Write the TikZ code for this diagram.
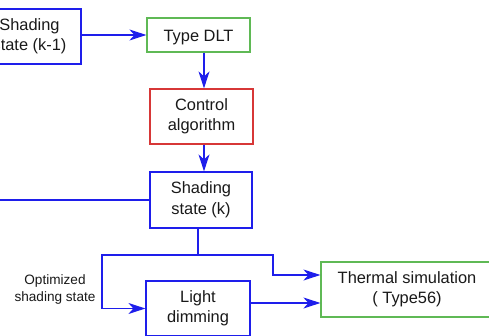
\documentclass[tikz,border=0pt]{standalone}
\usepackage{fontspec}
\setmainfont{Liberation Sans}
\usetikzlibrary{arrows.meta}
\definecolor{lnblue}{RGB}{30,30,235}
\definecolor{bxgreen}{RGB}{95,185,85}
\definecolor{bxred}{RGB}{215,55,55}
\begin{document}
\begin{tikzpicture}[x=1pt,y=-1pt,
  box/.style={draw, line width=1.2pt, rectangle, align=center, inner sep=0pt,
    font=\fontsize{16.4}{20.5}\selectfont, text=black!90},
  lowered/.style={execute at begin node={\rule{0pt}{17pt}}},
  bluebox/.style={box, draw=lnblue},
  greenbox/.style={box, draw=bxgreen},
  redbox/.style={box, draw=bxred},
  conn/.style={draw=lnblue, line width=1.2pt},
  arr/.style={conn, -{Stealth[length=17pt, width=11pt, inset=5pt]}},
  lbl/.style={align=center, inner sep=0pt, font=\fontsize{13.6}{17}\selectfont, text=black!90}]
\clip (0,0) rectangle (489,336);
\fill[white] (0,0) rectangle (489,336);

\node[bluebox, lowered, minimum width=103pt, minimum height=55pt] (sk1) at (29.5,36.5) {Shading\\state (k-1)};
\node[greenbox, lowered, minimum width=103pt, minimum height=34pt] (dlt) at (198.5,35) {Type DLT};
\node[redbox, lowered, minimum width=103pt, minimum height=55pt] (ctrl) at (201.5,116.5) {Control\\algorithm};
\node[bluebox, lowered, minimum width=102pt, minimum height=56pt] (sk) at (201,200) {Shading\\state (k)};
\node[bluebox, minimum width=104pt, minimum height=55pt] (ld) at (198,308.5) {Light\\dimming};
\node[greenbox, minimum width=172pt, minimum height=55pt] (ts) at (407,289.5) {Thermal simulation\\( Type56)};
\node[lbl] (opt) at (55,289.5) {Optimized\\shading state};

\coordinate (lin) at (-10,200);
\coordinate (j) at (198,255);

\draw[arr] (sk1.east |- dlt.west) -- (dlt.west);
\draw[arr] ([xshift=5.5pt]dlt.south) -- ([xshift=2.5pt]ctrl.north);
\draw[arr] ([xshift=2.5pt]ctrl.south) -- ([xshift=3pt]sk.north);
\draw[conn] (sk.west) -- (lin);
\draw[conn] ([xshift=-3pt]sk.south) -- (j);
\draw[arr] (j) -- ++(75,0) |- ([yshift=14.5pt]ts.west);
\draw[arr] (j) -- ++(-96,0) |- (ld.west);
\draw[arr] ([yshift=5.5pt]ld.east) -- ([yshift=-13.5pt]ts.west);
\end{tikzpicture}
\end{document}
